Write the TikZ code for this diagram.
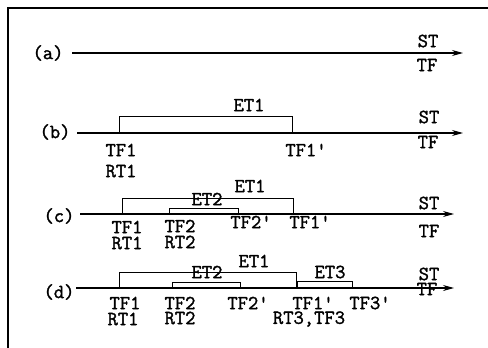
\documentclass[tikz,border=0pt]{standalone}
\usepackage{fontspec}
\newfontfamily\lblfont[FakeBold=1.6]{Latin Modern Mono}
\usetikzlibrary{arrows.meta}
\begin{document}
\begin{tikzpicture}[x=1pt,y=-1pt,
  lbl/.style={font=\fontsize{20}{20}\selectfont\lblfont,inner sep=0pt,anchor=center},
  tl/.style={line width=1.3pt,-{Stealth[length=11pt,width=6pt]}},
  bx/.style={line width=1pt}]
\useasboundingbox (0,0) rectangle (488,348);
\draw[line width=1.3pt] (488,8) -- (8,8) -- (8,348);
% (a)
\node[lbl] (la) at (48,53) {(a)};
\coordinate (a0) at (72,53); \coordinate (a1) at (463,53);
\draw[tl] (a0) -- (a1);
\node[lbl] (sta) at (428,41) {ST};
\node[lbl] (tfa) at (427,65) {TF};
% (b)
\node[lbl] (lb) at (55,132) {(b)};
\coordinate (b0) at (77,133); \coordinate (b1) at (463,133);
\draw[tl] (b0) -- (b1);
\coordinate (b1l) at (119,133); \coordinate (b1r) at (292,133);
\draw[bx] (b1l) -- ++(0,-17) -| (b1r);
\node[lbl] (et1b) at (249,105) {ET1};
\node[lbl] (stb) at (429,117) {ST};
\node[lbl] (tfb) at (428,142) {TF};
\node[lbl] (tf1b) at (121,150) {TF1};
\node[lbl] (rt1b) at (121,171) {RT1};
\node[lbl] (tf1pb) at (306,150) {TF1'};
% (c)
\node[lbl] (lc) at (59,216) {(c)};
\coordinate (c0) at (80,214); \coordinate (c1) at (454,214);
\draw[tl] (c0) -- (c1);
\coordinate (c1l) at (122,214); \coordinate (c1r) at (293,214);
\draw[bx] (c1l) -- ++(0,-16) -| (c1r);
\coordinate (c2l) at (169,214); \coordinate (c2r) at (238,214);
\draw[bx] (c2l) -- ++(0,-6) -| (c2r);
\node[lbl] (et1c) at (250,186) {ET1};
\node[lbl] (et2c) at (207,199) {ET2};
\node[lbl] (stc) at (429,203) {ST};
\node[lbl] (tfc) at (429,231) {TF};
\node[lbl] (tf1c) at (127,227) {TF1};
\node[lbl] (rt1c) at (127,243) {RT1};
\node[lbl] (tf2c) at (180,226) {TF2};
\node[lbl] (rt2c) at (180,242) {RT2};
\node[lbl] (tf2pc) at (251,222) {TF2'};
\node[lbl] (tf1pc) at (310,222) {TF1'};
% (d)
\node[lbl] (ld) at (59,292) {(d)};
\coordinate (d0) at (76,288); \coordinate (d1) at (454,288);
\draw[tl] (d0) -- (d1);
\coordinate (d1l) at (119,288); \coordinate (d1r) at (296,288);
\draw[bx] (d1l) -- ++(0,-16) -| (d1r);
\coordinate (d2l) at (172,288); \coordinate (d2r) at (240,288);
\draw[bx] (d2l) -- ++(0,-6) -| (d2r);
\coordinate (d3l) at (297,288); \coordinate (d3r) at (352,288);
\draw[bx] (d3l) -- ++(0,-7) -| (d3r);
\node[lbl] (et1d) at (254,261) {ET1};
\node[lbl] (et2d) at (207,272) {ET2};
\node[lbl] (et3d) at (330,272) {ET3};
\node[lbl] (std) at (429,274) {ST};
\node[lbl] (tfd) at (427,289) {TF};
\node[lbl] (tf1d) at (125,303) {TF1};
\node[lbl] (rt1d) at (123,319) {RT1};
\node[lbl] (tf2d) at (180,303) {TF2};
\node[lbl] (rt2d) at (180,318) {RT2};
\node[lbl] (tf2pd) at (248,303) {TF2'};
\node[lbl] (tf1pd) at (313,303) {TF1'};
\node[lbl] (tf3pd) at (370,303) {TF3'};
\node[lbl] (rt3d) at (309,319) {RT3,TF3};
\end{tikzpicture}
\end{document}
